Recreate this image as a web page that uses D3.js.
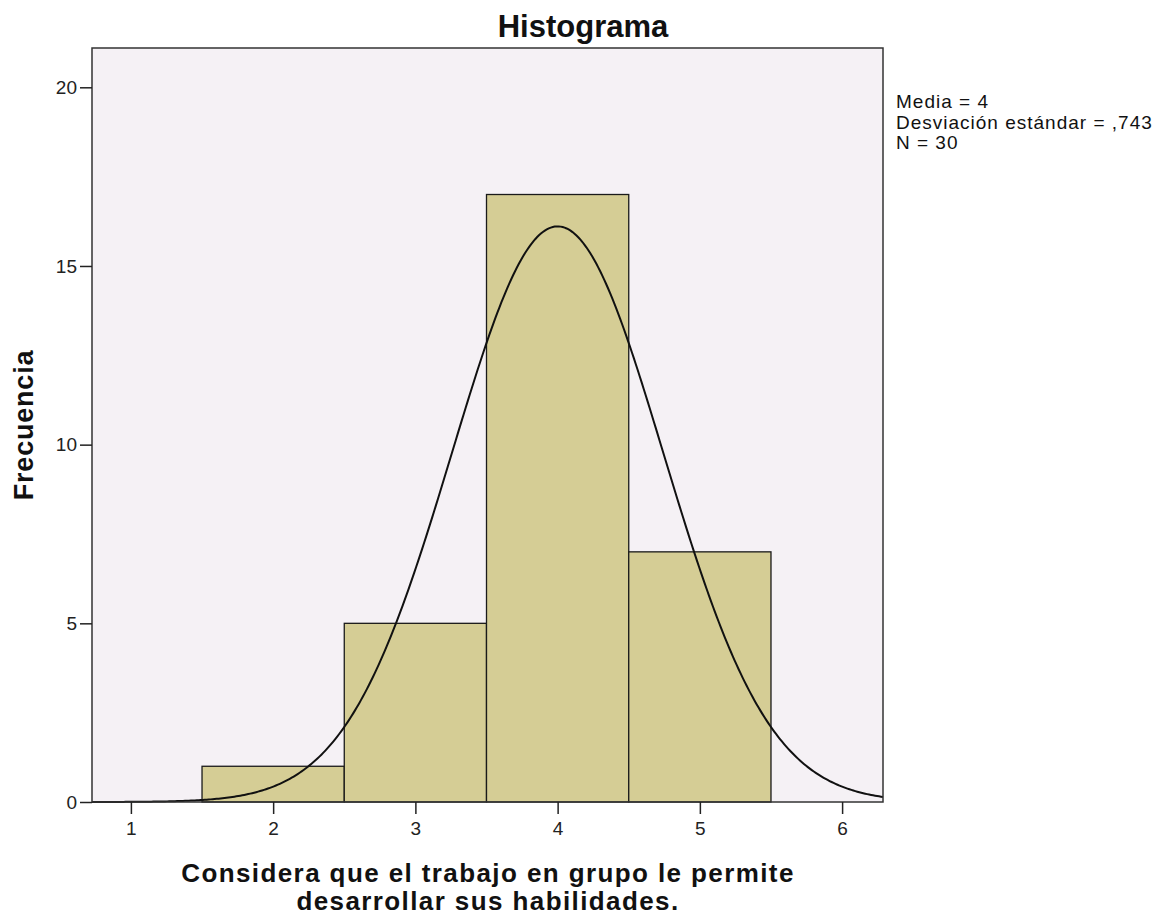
<!DOCTYPE html>
<html><head><meta charset="utf-8">
<script src="https://cdn.jsdelivr.net/npm/d3@7"></script>
<style>body{margin:0;background:#fff;} svg{display:block;font-family:"Liberation Sans",Arial,sans-serif;}</style>
</head><body>
<svg id="c" width="1161" height="916"></svg>
<script>
const binStarts = [1.5, 2.5, 3.5, 4.5];
const binEnds = [2.5, 3.5, 4.5, 5.5];
const frequencies = [1, 5, 17, 7];
const xTicks = [1, 2, 3, 4, 5, 6];
const yTicks = [0, 5, 10, 15, 20];
const mean = 4, sd = 0.743, n = 30, binWidth = 1;
const statsLines = ["Media = 4", "Desviación estándar = ,743", "N = 30"];

const svg = d3.select("#c");
const L = 92, R = 883, T = 48, B = 802;
const x = d3.scaleLinear().domain([0.7265, 6.2875]).range([L, R]);
const y = d3.scaleLinear().domain([0, 20]).range([B, 87.3]);

svg.append("rect").attr("x", L).attr("y", T).attr("width", R - L).attr("height", B - T).attr("fill", "#f5f1f5");

svg.selectAll("rect.bar").data(frequencies).enter().append("rect")
  .attr("class", "bar")
  .attr("x", (d, i) => x(binStarts[i]))
  .attr("width", (d, i) => x(binEnds[i]) - x(binStarts[i]))
  .attr("y", d => y(d))
  .attr("height", d => y(0) - y(d))
  .attr("fill", "#d5cd95").attr("stroke", "#1a1a1a").attr("stroke-width", 1.3);

const curvePts = d3.range(0, 401).map(i => {
  const xv = x.domain()[0] + (x.domain()[1] - x.domain()[0]) * i / 400;
  const yv = n * binWidth / (sd * Math.sqrt(2 * Math.PI)) * Math.exp(-0.5 * ((xv - mean) / sd) ** 2);
  return [xv, yv];
});
svg.append("path").datum(curvePts)
  .attr("d", d3.line().x(d => x(d[0])).y(d => y(d[1])))
  .attr("fill", "none").attr("stroke", "#111").attr("stroke-width", 2);

svg.append("rect").attr("x", L).attr("y", T).attr("width", R - L).attr("height", B - T)
  .attr("fill", "none").attr("stroke", "#333").attr("stroke-width", 1.5);

const xa = svg.append("g").attr("transform", `translate(0,${B})`)
  .call(d3.axisBottom(x).tickValues(xTicks).tickSize(12).tickPadding(8).tickFormat(d3.format("d")));
const ya = svg.append("g").attr("transform", `translate(${L},0)`)
  .call(d3.axisLeft(y).tickValues(yTicks).tickSize(12).tickPadding(3).tickFormat(d3.format("d")));
[xa, ya].forEach(g => {
  g.select(".domain").remove();
  g.selectAll("line").attr("stroke", "#222").attr("stroke-width", 1.5);
  g.selectAll("text").attr("fill", "#222").attr("font-size", 19).attr("font-family", "Liberation Sans, Arial, sans-serif");
});

svg.append("text").attr("x", 583).attr("y", 37).attr("text-anchor", "middle")
  .attr("font-size", 31).attr("font-weight", "bold").attr("fill", "#111").text("Histograma");

svg.append("text").attr("transform", "translate(33,425) rotate(-90)").attr("text-anchor", "middle")
  .attr("font-size", 27).attr("font-weight", "bold").attr("letter-spacing", 0.8).attr("fill", "#111").text("Frecuencia");

const xt = svg.append("text").attr("text-anchor", "middle").attr("font-size", 26).attr("font-weight", "bold")
  .attr("letter-spacing", 1.4).attr("fill", "#111");
xt.append("tspan").attr("x", 488).attr("y", 882).text("Considera que el trabajo en grupo le permite");
xt.append("tspan").attr("x", 488).attr("y", 910).text("desarrollar sus habilidades.");

svg.selectAll("text.stat").data(statsLines).enter().append("text")
  .attr("class", "stat").attr("x", 896).attr("y", (d, i) => 108 + i * 20.5)
  .attr("font-size", 19).attr("letter-spacing", 1).attr("fill", "#111").text(d => d);
</script>
</body></html>
